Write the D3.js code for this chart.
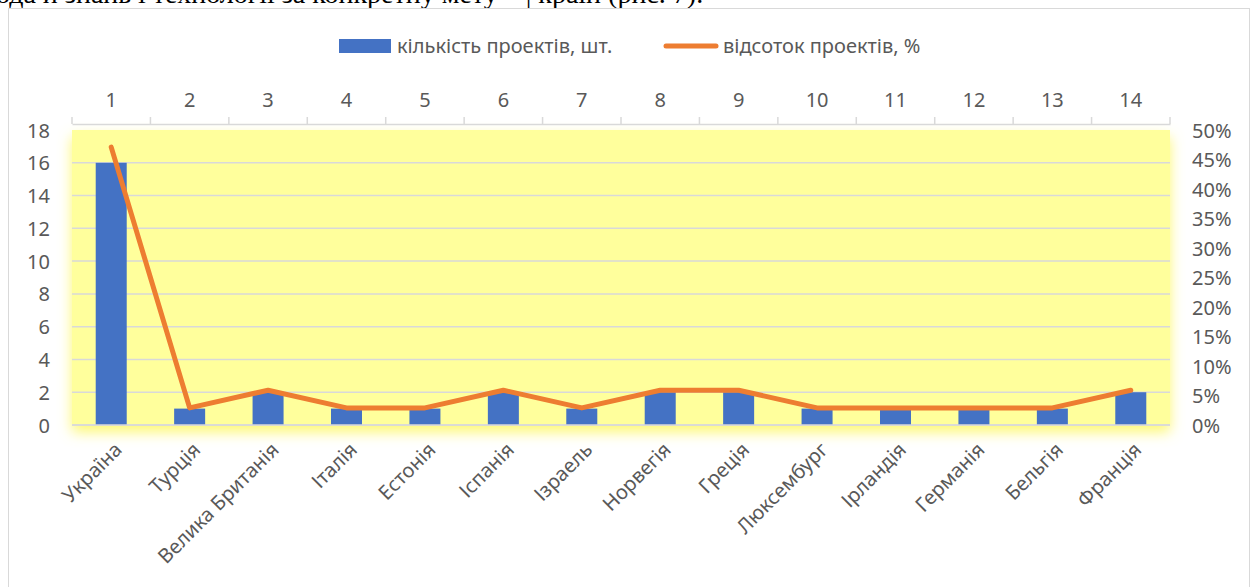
<!DOCTYPE html>
<html>
<head>
<meta charset="utf-8">
<script src="https://cdn.jsdelivr.net/npm/d3@7"></script>
<style>
  body { margin: 0; background: #fff; }
  svg { display: block; }
  text { font-family: "Noto Sans", "Open Sans", sans-serif; fill: #595959; }
</style>
</head>
<body>
<svg id="chart" width="1253" height="587"></svg>
<script>
const countries = ['Україна', 'Турція', 'Велика Британія', 'Італія', 'Естонія', 'Іспанія', 'Ізраель',
  'Норвегія', 'Греція', 'Люксембург', 'Ірландія', 'Германія', 'Бельгія', 'Франція'];
const numbers = ['1', '2', '3', '4', '5', '6', '7', '8', '9', '10', '11', '12', '13', '14'];
const projects = [16, 1, 2, 1, 1, 2, 1, 2, 2, 1, 1, 1, 1, 2];
const percents = [47.1, 2.9, 5.9, 2.9, 2.9, 5.9, 2.9, 5.9, 5.9, 2.9, 2.9, 2.9, 2.9, 5.9];
const leftTicks = [0, 2, 4, 6, 8, 10, 12, 14, 16, 18];
const rightTicks = [0, 5, 10, 15, 20, 25, 30, 35, 40, 45, 50];
const legendNames = ['кількість проектів, шт.', 'відсоток проектів, %'];

const svg = d3.select('#chart');
const plot = { left: 72, right: 1170, top: 130, bottom: 425 };
const fs = '20px';

// cut-off line of the document text above the chart
svg.append('text')
  .attr('x', -4).attr('y', 3)
  .style('font-family', '"Liberation Serif", serif')
  .style('fill', '#000')
  .style('font-size', '28px')
  .text('ода й знань і технології за конкретну мету – | країн (рис. 7).');

// chart frame
svg.append('rect')
  .attr('x', 8.5).attr('y', 8.5)
  .attr('width', 1241).attr('height', 600)
  .attr('fill', '#fff')
  .attr('stroke', '#d9d9d9');

const xb = d3.scaleBand().domain(numbers).range([plot.left, plot.right]);
const y = d3.scaleLinear().domain([0, 18]).range([plot.bottom, plot.top]);
const y2 = d3.scaleLinear().domain([0, 50]).range([plot.bottom, plot.top]);
const cx = i => xb(numbers[i]) + xb.bandwidth() / 2;

// yellow glow under plot area
const defs = svg.append('defs');
const f = defs.append('filter').attr('id', 'glow')
  .attr('x', '-5%').attr('y', '-10%').attr('width', '110%').attr('height', '130%');
f.append('feGaussianBlur').attr('in', 'SourceAlpha').attr('stdDeviation', 7).attr('result', 'b');
f.append('feOffset').attr('in', 'b').attr('dx', 0).attr('dy', 7).attr('result', 'o');
f.append('feFlood').attr('flood-color', '#fdf870').attr('flood-opacity', 1);
f.append('feComposite').attr('in2', 'o').attr('operator', 'in').attr('result', 's');
const m = f.append('feMerge');
m.append('feMergeNode').attr('in', 's');
m.append('feMergeNode').attr('in', 'SourceGraphic');

svg.append('rect')
  .attr('x', plot.left).attr('y', plot.top)
  .attr('width', plot.right - plot.left).attr('height', plot.bottom - plot.top)
  .attr('fill', '#ffff9c')
  .attr('filter', 'url(#glow)');

// gridlines
svg.append('g').selectAll('line')
  .data(leftTicks.slice(0, -1)).enter()
  .append('line')
  .attr('x1', plot.left).attr('x2', plot.right)
  .attr('y1', d => y(d)).attr('y2', d => y(d))
  .attr('stroke', '#d9d9d9').attr('stroke-width', 1.5);

// left axis
const leftAxis = svg.append('g')
  .attr('transform', `translate(${plot.left - 22},0)`)
  .call(d3.axisLeft(y).tickValues(leftTicks).tickSize(0).tickPadding(0));
leftAxis.select('.domain').remove();
leftAxis.selectAll('text').style('font-size', fs).attr('dy', '0.35em');

// right axis
const rightAxis = svg.append('g')
  .attr('transform', `translate(${plot.right + 22},0)`)
  .call(d3.axisRight(y2).tickValues(rightTicks).tickFormat(d => d + '%').tickSize(0).tickPadding(0));
rightAxis.select('.domain').remove();
rightAxis.selectAll('text').style('font-size', fs).attr('dy', '0.35em');

// top secondary category axis
const topAxis = svg.append('g')
  .attr('transform', 'translate(0,124)')
  .call(d3.axisTop(xb).tickSize(0).tickPadding(17));
topAxis.select('.domain').attr('stroke', '#d9d9d9').attr('stroke-width', 1.5);
topAxis.selectAll('text').style('font-size', fs);
topAxis.append('g').selectAll('line')
  .data(d3.range(numbers.length + 1)).enter()
  .append('line')
  .attr('x1', i => plot.left + i * xb.step()).attr('x2', i => plot.left + i * xb.step())
  .attr('y1', 0).attr('y2', -7)
  .attr('stroke', '#d9d9d9').attr('stroke-width', 1.5);

// bars
svg.append('g').selectAll('rect')
  .data(projects).enter()
  .append('rect')
  .attr('x', (d, i) => cx(i) - 15.5)
  .attr('width', 31)
  .attr('y', d => y(d))
  .attr('height', d => y(0) - y(d))
  .attr('fill', '#4472c4');

// base line
svg.append('line')
  .attr('x1', plot.left).attr('x2', plot.right)
  .attr('y1', y(0)).attr('y2', y(0))
  .attr('stroke', '#d9d9d9').attr('stroke-width', 1.5);

// percent line
const line = d3.line()
  .x((d, i) => cx(i))
  .y(d => y2(d));
svg.append('path')
  .datum(percents)
  .attr('d', line)
  .attr('fill', 'none')
  .attr('stroke', '#ed7d31')
  .attr('stroke-width', 5)
  .attr('stroke-linecap', 'round')
  .attr('stroke-linejoin', 'round');

// country labels
svg.append('g').selectAll('text')
  .data(countries).enter()
  .append('text')
  .attr('transform', (d, i) => `translate(${cx(i) + 12},${plot.bottom + 26}) rotate(-45)`)
  .attr('text-anchor', 'end')
  .style('font-size', fs)
  .text(d => d);

// legend
const lg = svg.append('g');
lg.append('rect').attr('x', 339).attr('y', 39).attr('width', 52).attr('height', 14).attr('fill', '#4472c4');
lg.append('text').attr('x', 397).attr('y', 53).style('font-size', fs).text(legendNames[0]);
lg.append('line').attr('x1', 666).attr('x2', 716).attr('y1', 46).attr('y2', 46)
  .attr('stroke', '#ed7d31').attr('stroke-width', 5).attr('stroke-linecap', 'round');
lg.append('text').attr('x', 723).attr('y', 53).style('font-size', fs).text(legendNames[1]);
</script>
</body>
</html>
